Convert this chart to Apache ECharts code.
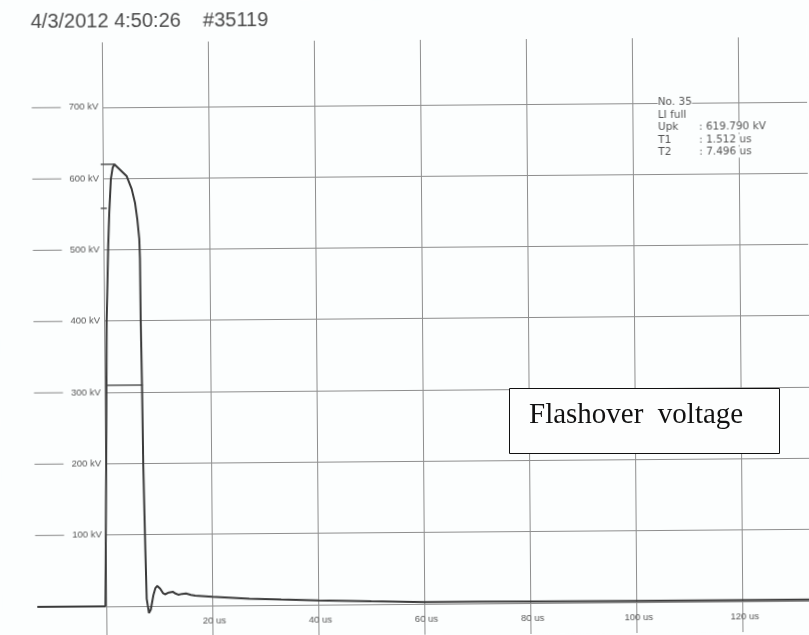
<!DOCTYPE html>
<html><head><meta charset="utf-8">
<script src="https://cdn.jsdelivr.net/npm/echarts@6/dist/echarts.min.js"></script>
<style>
html,body{margin:0;padding:0;background:#fcfefe;overflow:hidden}
#wrap{position:relative;width:809px;height:635px;overflow:hidden}
#chart{position:absolute;left:0;top:0;width:809px;height:635px;transform:rotate(-0.45deg);transform-origin:404.5px 317.5px}
#overlay{position:absolute;left:0;top:0;width:809px;height:635px;pointer-events:none}
</style></head>
<body><div id="wrap"><div id="chart"></div><div id="overlay"></div></div>
<script>
// ---- data ----
const titleText = '4/3/2012 4:50:26    #35119';
const timeUs = [-13, -0.15, 0.2, 0.5, 0.9, 1.15, 1.5, 1.85, 2.17, 4.49, 5.41, 6.01, 6.42, 6.77, 6.87, 6.92, 7.07, 7.19, 7.45, 7.64, 8.05, 8.4, 8.9, 9.3, 9.65, 10.2, 10.7, 11.1, 11.8, 12.56, 13.1, 13.6, 14.3, 15.06, 16, 16.8, 20, 27, 33, 40, 50, 60, 70, 80, 100, 120, 135];
const voltageKV = [0, 0, 200, 400, 505, 552, 599, 615, 619.8, 603, 585, 566, 543, 515, 487, 402, 310, 197, 80, 10, -10, -5, 15, 25, 28, 24, 18, 16, 18.5, 19.6, 17, 15.4, 16.5, 17, 15, 14, 12, 9, 7.5, 6, 4, 2.5, 2.2, 2, 1.5, 1.5, 1.5];
const upkKV = 619.79, upkLineT = [-0.4, 2.17];
const ninetyKV = 558, ninetyLineT = [-0.45, 0.7];
const halfKV = 310, halfLineT = [0.53, 7.2];
const xTicks = [20, 40, 60, 80, 100, 120];
const yTicks = [100, 200, 300, 400, 500, 600, 700];
const annoLabels = ['No. 35', 'LI full', 'Upk', 'T1', 'T2'];
const annoValues = ['', '', ': 619.790 kV', ': 1.512 us', ': 7.496 us'];
const boxText = 'Flashover  voltage';

// ---- chart ----
const BG = '#fcfefe';
const GRID = '#8e8e8e';
const PXUS = 5.304;               // px per microsecond
const X0 = 104, TOP = 40, H = 635.2;
const YMIN = -100, YMAX = 791;
const ZERO_Y = TOP + H * YMAX / (YMAX - YMIN);   // pixel row of 0 kV
const chart = echarts.init(document.getElementById('chart'), null, {renderer: 'canvas'});
const seg = (ts, v) => [[ts[0], v], [ts[1], v]];
const thin = {type: 'line', symbol: 'none', silent: true, xAxisIndex: 1, yAxisIndex: 1, lineStyle: {color: '#555', width: 1.5}, z: 3};
const annoGraphics = [];
annoLabels.forEach((l, i) => {
  const y = 104.7 + 12.5 * i;
  annoGraphics.push({type: 'text', x: 659.5, y: y, z: 10, style: {text: l, font: '10.5px "DejaVu Sans"', fill: '#555', verticalAlign: 'middle', backgroundColor: BG}});
  if (annoValues[i]) annoGraphics.push({type: 'text', x: 700.5, y: y, z: 10, style: {text: annoValues[i], font: '10.5px "DejaVu Sans"', fill: '#555', verticalAlign: 'middle', backgroundColor: BG}});
});
const hiddenAxis = {show: false};
const gridBase = {top: TOP, outerBoundsMode: 'none', containLabel: false};
chart.setOption({
  animation: false,
  backgroundColor: BG,
  grid: [
    Object.assign({left: X0, width: 140 * PXUS, height: H}, gridBase),
    Object.assign({left: X0 - 20 * PXUS, width: 160 * PXUS, height: H}, gridBase),
    Object.assign({left: X0, width: 140 * PXUS, height: ZERO_Y - TOP}, gridBase)
  ],
  xAxis: [{
    gridIndex: 0, type: 'value', min: 0, max: 140, interval: 20,
    axisLine: {show: false, onZero: false}, axisTick: {show: false}, axisLabel: {show: false},
    splitLine: {show: true, lineStyle: {color: GRID, width: 1}}
  },
  Object.assign({gridIndex: 1, type: 'value', min: -20, max: 140}, hiddenAxis),
  {
    gridIndex: 2, type: 'value', min: 0, max: 140, interval: 20, position: 'bottom',
    axisLine: {show: false, onZero: false}, axisTick: {show: false}, splitLine: {show: false},
    axisLabel: {margin: 10, fontSize: 9.5, fontFamily: 'Liberation Sans', color: '#555', padding: [0, 0, 0, 4],
      formatter: v => xTicks.includes(v) ? v + ' us' : ''}
  }],
  yAxis: [{
    gridIndex: 0, type: 'value', min: YMIN, max: YMAX, interval: 100,
    axisLine: {show: false, onZero: false}, axisTick: {show: false},
    splitLine: {show: true, showMaxLine: false, showMinLine: false, lineStyle: {color: GRID, width: 1}},
    axisLabel: {margin: 4, color: '#555',
      formatter: v => yTicks.includes(v) ? '{s|}{t|' + v + ' kV}' : '',
      rich: {
        s: {width: 29, height: 1, backgroundColor: '#888', verticalAlign: 'middle'},
        t: {fontSize: 9.5, fontFamily: 'Liberation Sans', color: '#555', padding: [0, 0, 0, 8], verticalAlign: 'middle'}
      }}
  },
  Object.assign({gridIndex: 1, type: 'value', min: YMIN, max: YMAX}, hiddenAxis),
  Object.assign({gridIndex: 2, type: 'value', min: 0, max: YMAX}, hiddenAxis)],
  graphic: [
    {type: 'text', x: 33, y: 19, z: 10, style: {text: titleText, font: '20px "Liberation Sans"', fill: '#4a4a4a', verticalAlign: 'middle'}}
  ].concat(annoGraphics),
  series: [
    Object.assign({}, thin, {data: seg(upkLineT, upkKV)}),
    Object.assign({}, thin, {data: seg(ninetyLineT, ninetyKV)}),
    Object.assign({}, thin, {data: seg(halfLineT, halfKV)}),
    {type: 'line', symbol: 'none', silent: true, z: 4, xAxisIndex: 1, yAxisIndex: 1,
     data: timeUs.map((t, i) => [t, voltageKV[i]]),
     lineStyle: {color: '#3a3a3a', width: 2}}
  ]
});

// ---- overlay box (not part of the scanned, slightly rotated print) ----
const ov = echarts.init(document.getElementById('overlay'));
ov.setOption({
  animation: false,
  graphic: [
    {type: 'rect', shape: {x: 509.5, y: 388.5, width: 270, height: 65}, style: {fill: '#fdfefe', stroke: '#111', lineWidth: 1}},
    {type: 'text', x: 529, y: 415.5, style: {text: boxText, font: '29px "Liberation Serif"', fill: '#111', verticalAlign: 'middle'}}
  ]
});
</script>
</body></html>
